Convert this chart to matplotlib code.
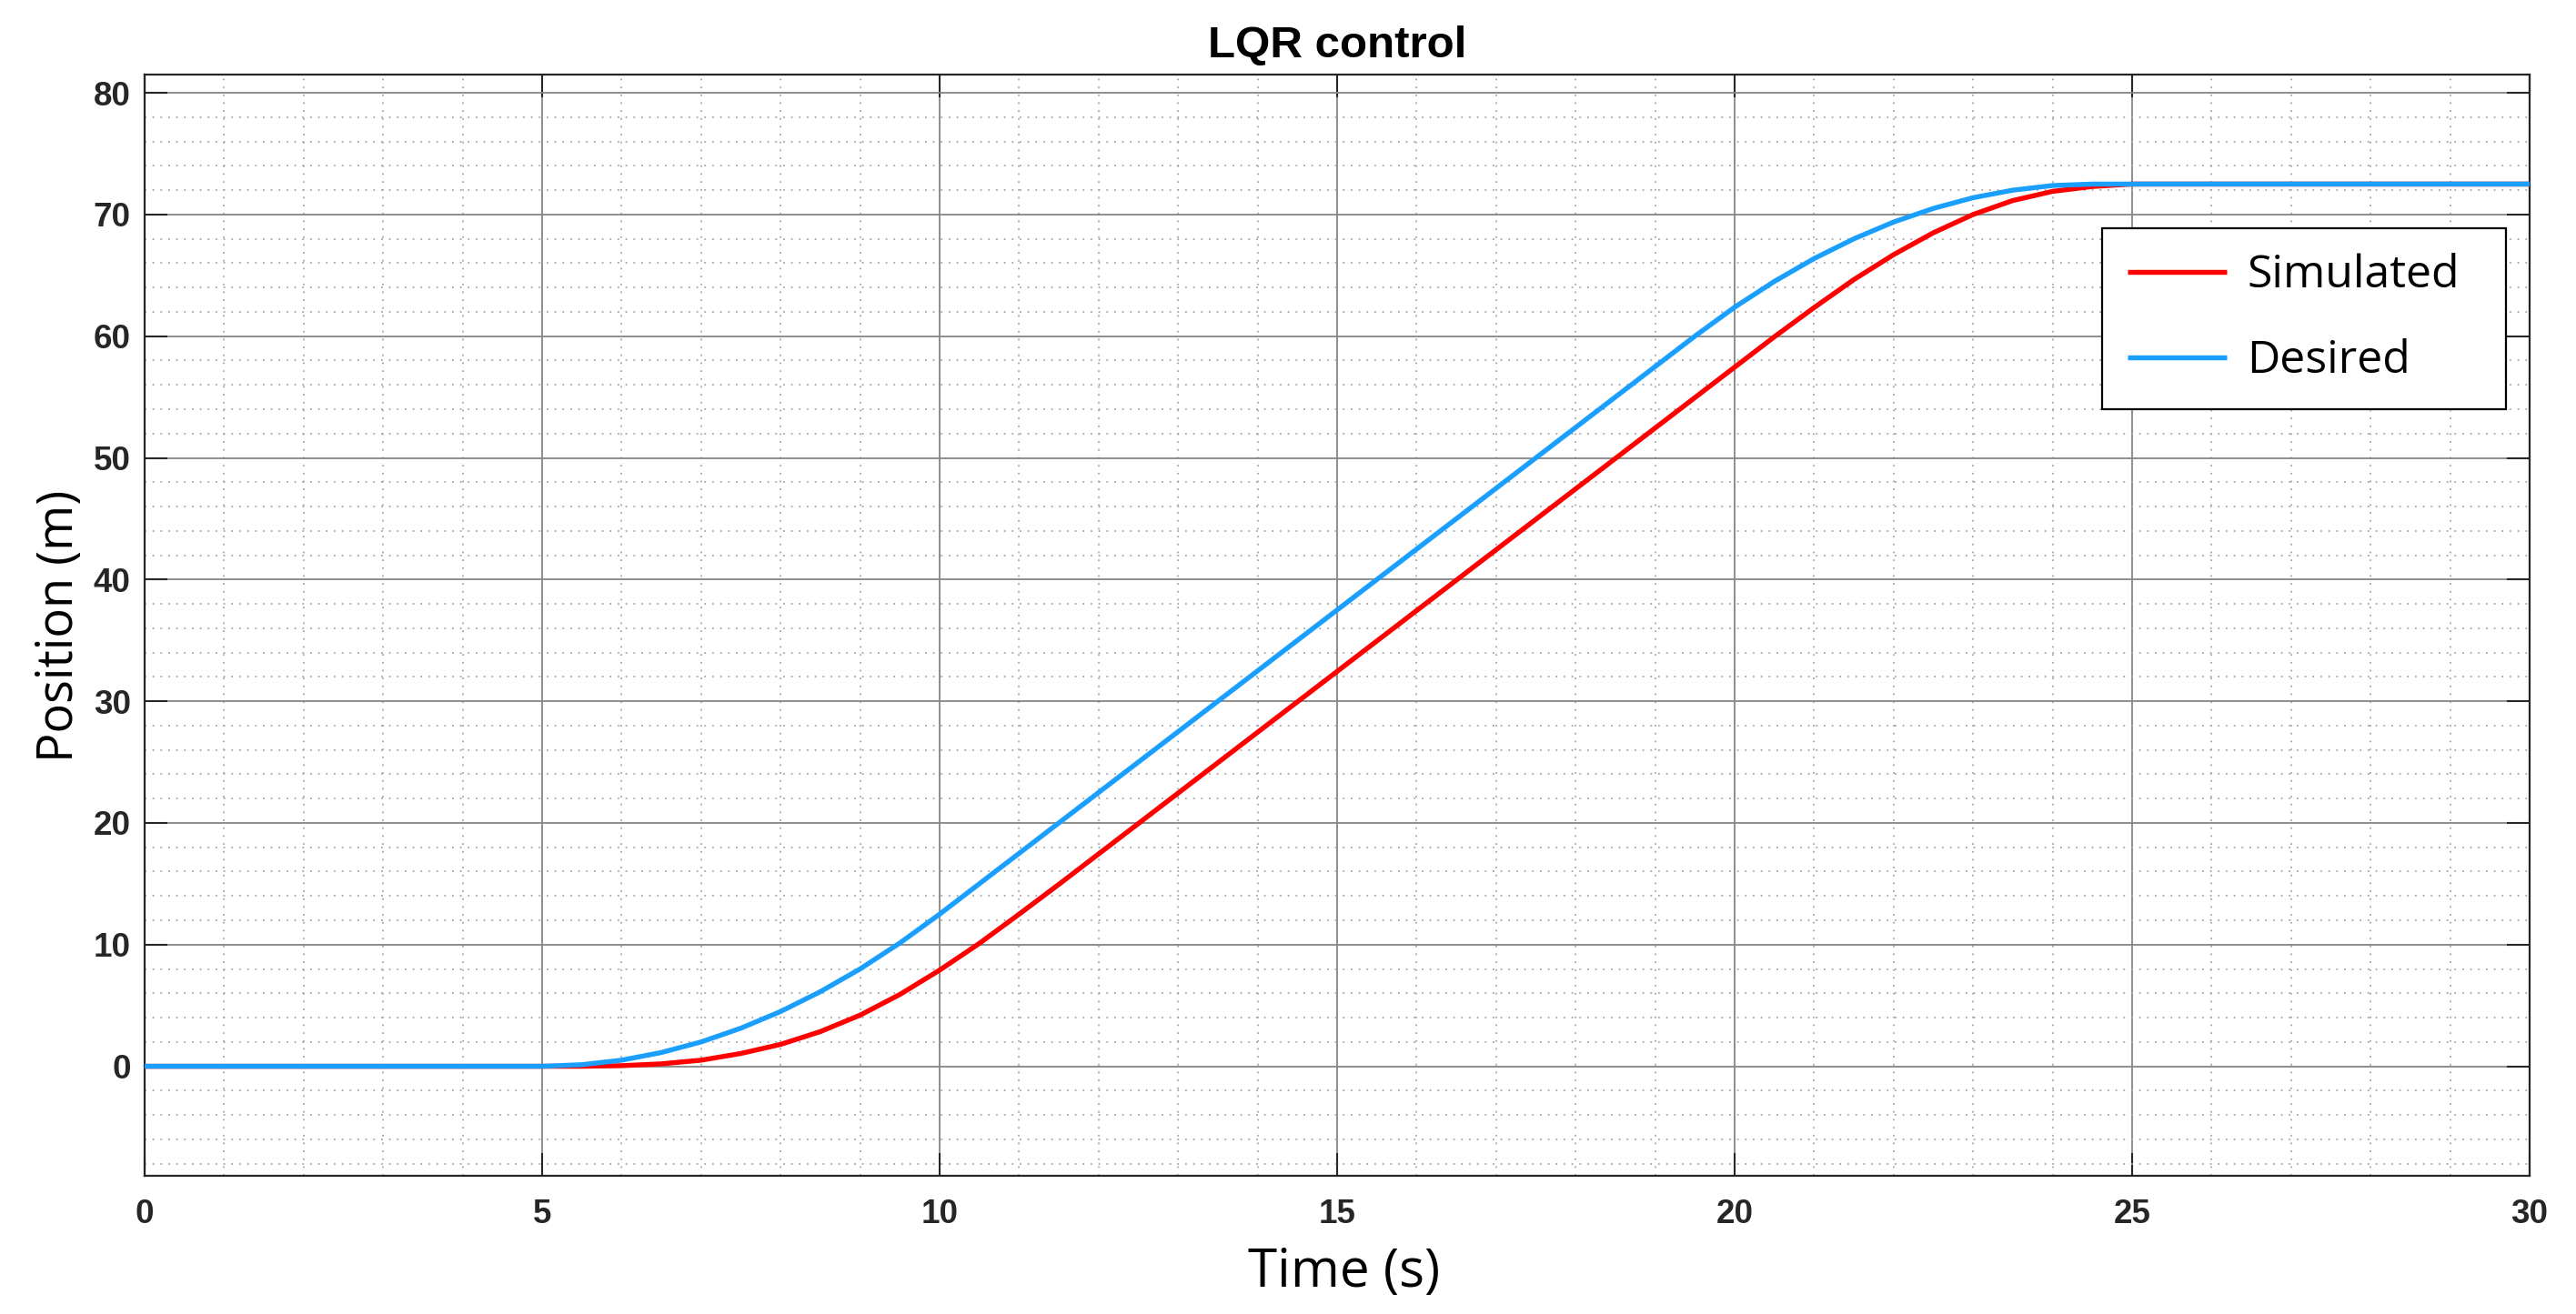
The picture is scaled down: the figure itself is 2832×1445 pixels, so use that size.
import matplotlib
matplotlib.use("Agg")
import matplotlib.pyplot as plt
from matplotlib.ticker import MultipleLocator

# ---- data ----
time_simulated = [0, 5.5, 6, 6.5, 7, 7.5, 8, 8.5, 9, 9.5, 10, 10.5, 11, 11.5, 12, 12.5, 13,
                  20.5, 21, 21.5, 22, 22.5, 23, 23.5, 24, 24.5, 25, 30]
pos_simulated = [0, 0, 0.05, 0.2, 0.5, 1.05, 1.8, 2.85, 4.2, 5.9, 7.9, 10.1, 12.5, 14.95, 17.45, 19.95, 22.45,
                 59.95, 62.35, 64.65, 66.7, 68.5, 70.0, 71.15, 71.9, 72.3, 72.5, 72.5]

time_desired = [0, 5, 5.5, 6, 6.5, 7, 7.5, 8, 8.5, 9, 9.5, 10,
                19.5, 20, 20.5, 21, 21.5, 22, 22.5, 23, 23.5, 24, 24.5, 30]
pos_desired = [0, 0, 0.13, 0.5, 1.13, 2.0, 3.13, 4.5, 6.13, 8.0, 10.13, 12.5,
               60.0, 62.38, 64.5, 66.38, 68.0, 69.38, 70.5, 71.38, 72.0, 72.38, 72.5, 72.5]

series_labels = ["Simulated", "Desired"]
x_ticks = [0, 5, 10, 15, 20, 25, 30]
y_ticks = [0, 10, 20, 30, 40, 50, 60, 70, 80]

title_text = "LQR control"
xlabel_text = "Time (s)"
ylabel_text = "Position (m)"

# ---- figure ----
W, H = 2832, 1445
fig = plt.figure(figsize=(W / 100, H / 100), dpi=100)
fig.patch.set_facecolor("white")

ax_l, ax_r, ax_t, ax_b = 159, 2781, 82, 1293
ax = fig.add_axes([ax_l / W, 1 - ax_b / H, (ax_r - ax_l) / W, (ax_b - ax_t) / H])

ax.plot(time_simulated, pos_simulated, color="#FF0000", lw=3.9, label=series_labels[0],
        solid_joinstyle="round", solid_capstyle="butt", zorder=3)
ax.plot(time_desired, pos_desired, color="#1A9FFF", lw=3.9, label=series_labels[1],
        solid_joinstyle="round", solid_capstyle="butt", zorder=4)

ax.set_xlim(0, 30)
ax.set_ylim(-9, 81.5)
ax.set_xticks(x_ticks)
ax.set_yticks(y_ticks)
ax.xaxis.set_minor_locator(MultipleLocator(1))
ax.yaxis.set_minor_locator(MultipleLocator(2))

dark = "#262626"
ax.grid(True, which="major", color="#858585", lw=1.3, ls="-", zorder=1)
ax.grid(True, which="minor", color="#a6a6a6", lw=1.3, ls=(0, (1, 3.8)), zorder=0.5)
ax.set_axisbelow(True)

for s in ax.spines.values():
    s.set_color(dark)
    s.set_linewidth(1.6)

ax.tick_params(which="major", direction="in", length=18, width=1.5, color=dark,
               top=True, right=True, labelcolor=dark)
ax.tick_params(which="minor", length=0, top=True, right=True)
ax.tick_params(axis="x", which="major", pad=18)
ax.tick_params(axis="y", which="major", pad=11)
for lab in ax.get_xticklabels() + ax.get_yticklabels():
    lab.set_fontfamily("Liberation Sans")
    lab.set_fontweight("bold")
    lab.set_fontsize(26.5)

ax.set_title(title_text, fontfamily="Liberation Sans", fontweight="bold", fontsize=35.5,
             color="black", pad=14)

ax.set_xlabel(xlabel_text, fontfamily="Open Sans", fontsize=42, color="black")
ax.xaxis.label.set_va("baseline")
ax.xaxis.set_label_coords((1478 - ax_l) / (ax_r - ax_l), -(1415 - ax_b) / (ax_b - ax_t))

ax.set_ylabel(ylabel_text, fontfamily="Open Sans", fontsize=39, color="black")
ax.yaxis.label.set_va("baseline")
ax.yaxis.set_label_coords((80 - ax_l) / (ax_r - ax_l), (ax_b - 688) / (ax_b - ax_t))

# legend: frame spans x 2311..2755, top at y 251
lx0, lx1, lt = 2311, 2755, 251
leg = ax.legend(loc="upper left",
                bbox_to_anchor=(lx0 / W, 1 - lt / H - 0.3, (lx1 - lx0) / W, 0.3),
                bbox_transform=fig.transFigure, mode="expand",
                prop={"family": "Open Sans", "size": 36},
                handlelength=2.18, handletextpad=0.46, borderpad=0.55,
                labelspacing=0.9, borderaxespad=0, fancybox=False, framealpha=1,
                edgecolor="black")
leg.get_frame().set_linewidth(1.6)
leg.set_zorder(10)

fig.savefig("out.png", dpi=100, facecolor="white")
